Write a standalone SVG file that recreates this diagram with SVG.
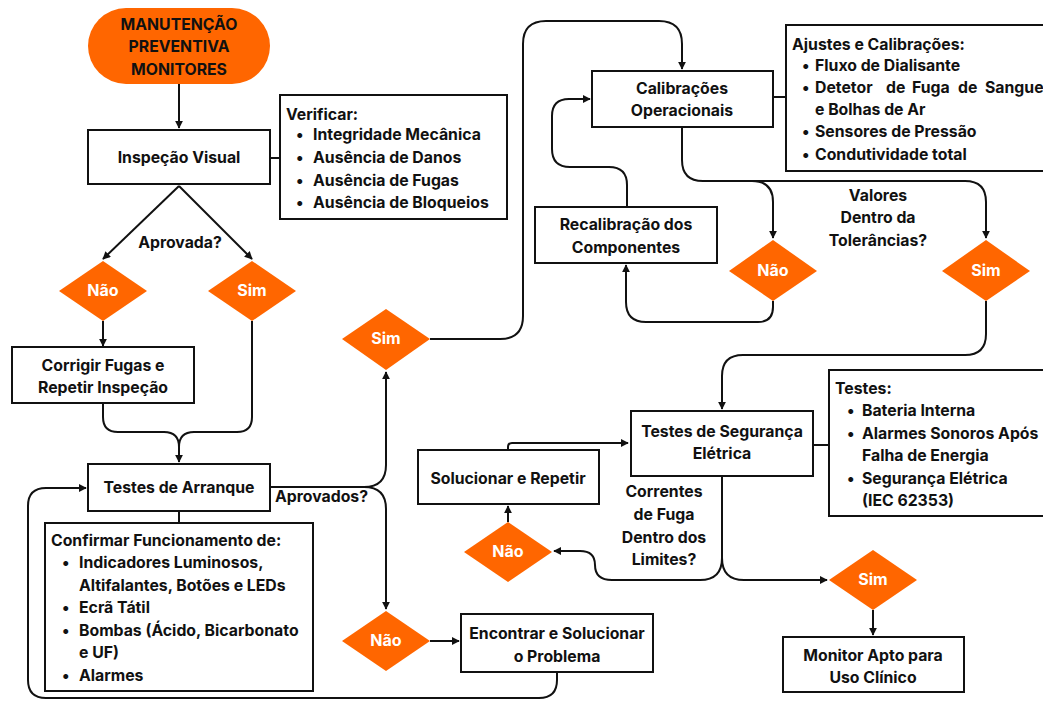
<svg xmlns="http://www.w3.org/2000/svg" width="1043" height="701" viewBox="0 0 1043 701">
<defs>
<marker id="ah" viewBox="0 0 10 10" refX="9" refY="5" markerWidth="8" markerHeight="8" markerUnits="userSpaceOnUse" orient="auto">
<path d="M0,0 L10,5 L0,10 z" fill="#111"/>
</marker>
<style>
.box{fill:#fff;stroke:#111;stroke-width:2}
.dia{fill:#FF6600}
.t{font-family:Inter,"Noto Sans","Liberation Sans",sans-serif;font-weight:700;font-size:15.8px;fill:#111}
.c{text-anchor:middle}
.w{fill:#fff;font-size:16px}
.cn{fill:none;stroke:#111;stroke-width:2}
.a{marker-end:url(#ah)}
</style>
</defs>
<rect width="1043" height="701" fill="#fff"/>
<g id="connectors">
<path class="cn a" d="M179 84 V128"/>
<path class="cn" d="M270 158 H280"/>
<path class="cn a" d="M179 186 L103 259"/>
<path class="cn a" d="M179 186 L252 259"/>
<path class="cn a" d="M103 321 V346"/>
<path class="cn a" d="M103 403 V417 Q103 432 118 432 H164 Q179 432 179 447 V462"/>
<path class="cn" d="M252 321 V417 Q252 432 237 432 H194 Q179 432 179 447"/>
<path class="cn" d="M179 511 V523"/>
<path class="cn a" d="M270 487 H364 Q386 487 386 465 V372"/>
<path class="cn a" d="M364 487 Q386 487 386 509 V609"/>
<path class="cn a" d="M430 339 H500 Q523 339 523 316 V44 Q523 21 546 21 H659 Q682 21 682 44 V69"/>
<path class="cn" d="M773 97 H786"/>
<path class="cn a" d="M682 127 V160 Q682 181 703 181 H752 Q773 181 773 202 V238"/>
<path class="cn a" d="M752 181 H965 Q986 181 986 202 V238"/>
<path class="cn a" d="M773 301 V307 Q773 322 758 322 H646 Q626 322 626 302 V265"/>
<path class="cn a" d="M627 207 V185 Q627 167 609 167 H570 Q552 167 552 149 V116 Q552 99 569 99 H590"/>
<path class="cn a" d="M986 301 V334 Q986 355 965 355 H743 Q722 355 722 376 V409"/>
<path class="cn" d="M813 445 H829"/>
<path class="cn a" d="M722 476 V558 Q722 580 744 580 H827"/>
<path class="cn a" d="M722 558 Q722 580 700 580 H612 Q595 580 595 565 Q595 551 580 551 H554"/>
<path class="cn a" d="M508 522 V506"/>
<path class="cn a" d="M508 450 V447 Q508 443 512 443 H628"/>
<path class="cn a" d="M430 641 H459"/>
<path class="cn a" d="M557 672 V680 Q557 698 539 698 H46 Q28 698 28 680 V506 Q28 488 46 488 H86"/>
<path class="cn a" d="M873 610 V635"/>
</g>
<g id="start">
<rect x="88" y="8" width="182" height="76" rx="38" fill="#FF6600"/>
<text class="t c" x="179" y="30">MANUTENÇÃO</text>
<text class="t c" x="179" y="52">PREVENTIVA</text>
<text class="t c" x="179" y="75">MONITORES</text>
</g>
<g id="inspecao">
<rect class="box" x="88" y="130" width="182" height="54"/>
<text class="t c" x="179" y="163">Inspeção Visual</text>
</g>
<g id="verificar">
<rect class="box" x="280" y="95" width="227" height="124"/>
<text class="t" x="286" y="120">Verificar:</text>
<text class="t" x="296" y="140">•</text><text class="t" x="313" y="140">Integridade Mecânica</text>
<text class="t" x="296" y="163">•</text><text class="t" x="313" y="163">Ausência de Danos</text>
<text class="t" x="296" y="186">•</text><text class="t" x="313" y="186">Ausência de Fugas</text>
<text class="t" x="296" y="208">•</text><text class="t" x="313" y="208">Ausência de Bloqueios</text>
</g>
<g id="aprovada-label"><text class="t c" x="180" y="248">Aprovada?</text></g>
<g id="nao1">
<polygon class="dia" points="103,261 147,291 103,321 59,291"/>
<text class="t c w" x="103" y="296">Não</text>
</g>
<g id="sim1">
<polygon class="dia" points="252,261 296,291 252,321 208,291"/>
<text class="t c w" x="252" y="296">Sim</text>
</g>
<g id="corrigir">
<rect class="box" x="12" y="347" width="182" height="56"/>
<text class="t c" x="103" y="371">Corrigir Fugas e</text>
<text class="t c" x="103" y="393">Repetir Inspeção</text>
</g>
<g id="arranque">
<rect class="box" x="88" y="464" width="182" height="47"/>
<text class="t c" x="179" y="493">Testes de Arranque</text>
</g>
<g id="confirmar">
<rect class="box" x="45" y="523" width="268" height="168"/>
<text class="t" x="51" y="546">Confirmar Funcionamento de:</text>
<text class="t" x="62" y="568">•</text><text class="t" x="79" y="568">Indicadores Luminosos,</text>
<text class="t" x="79" y="591">Altifalantes, Botões e LEDs</text>
<text class="t" x="62" y="613">•</text><text class="t" x="79" y="613">Ecrã Tátil</text>
<text class="t" x="62" y="636">•</text><text class="t" x="79" y="636">Bombas (Ácido, Bicarbonato</text>
<text class="t" x="79" y="658">e UF)</text>
<text class="t" x="62" y="681">•</text><text class="t" x="79" y="681">Alarmes</text>
</g>
<g id="aprovados-label"><text class="t" x="275" y="502">Aprovados?</text></g>
<g id="sim2">
<polygon class="dia" points="386,309 430,339 386,370 342,339"/>
<text class="t c w" x="386" y="344">Sim</text>
</g>
<g id="nao2">
<polygon class="dia" points="386,611 430,641 386,671 342,641"/>
<text class="t c w" x="386" y="646">Não</text>
</g>
<g id="encontrar">
<rect class="box" x="461" y="614" width="192" height="58"/>
<text class="t c" x="557" y="639">Encontrar e Solucionar</text>
<text class="t c" x="557" y="662">o Problema</text>
</g>
<g id="calibracoes">
<rect class="box" x="592" y="71" width="181" height="56"/>
<text class="t c" x="682" y="94">Calibrações</text>
<text class="t c" x="682" y="116">Operacionais</text>
</g>
<g id="ajustes">
<rect class="box" x="786" y="25" width="265" height="146"/>
<text class="t" x="792" y="50">Ajustes e Calibrações:</text>
<text class="t" x="802" y="71">•</text><text class="t" x="815" y="71">Fluxo de Dialisante</text>
<text class="t" x="802" y="93">•</text><text class="t" y="93"><tspan x="815">Detetor</tspan><tspan x="886">de</tspan><tspan x="912">Fuga</tspan><tspan x="958">de</tspan><tspan x="985">Sangue</tspan></text>
<text class="t" x="815" y="115">e Bolhas de Ar</text>
<text class="t" x="802" y="137">•</text><text class="t" x="815" y="137">Sensores de Pressão</text>
<text class="t" x="802" y="160">•</text><text class="t" x="815" y="160">Condutividade total</text>
</g>
<g id="recalibracao">
<rect class="box" x="535" y="207" width="182" height="56"/>
<text class="t c" x="626" y="230">Recalibração dos</text>
<text class="t c" x="626" y="253">Componentes</text>
</g>
<g id="valores-label">
<text class="t c" x="878" y="201">Valores</text>
<text class="t c" x="878" y="223">Dentro da</text>
<text class="t c" x="878" y="246">Tolerâncias?</text>
</g>
<g id="nao3">
<polygon class="dia" points="773,240 817,271 773,301 729,271"/>
<text class="t c w" x="773" y="276">Não</text>
</g>
<g id="sim3">
<polygon class="dia" points="986,240 1030,271 986,301 942,271"/>
<text class="t c w" x="986" y="276">Sim</text>
</g>
<g id="seguranca">
<rect class="box" x="631" y="411" width="182" height="65"/>
<text class="t c" x="722" y="437">Testes de Segurança</text>
<text class="t c" x="722" y="459">Elétrica</text>
</g>
<g id="testes">
<rect class="box" x="829" y="370" width="222" height="146"/>
<text class="t" x="835" y="394">Testes:</text>
<text class="t" x="847" y="416">•</text><text class="t" x="862" y="416">Bateria Interna</text>
<text class="t" x="847" y="439">•</text><text class="t" x="862" y="439">Alarmes Sonoros Após</text>
<text class="t" x="862" y="461">Falha de Energia</text>
<text class="t" x="847" y="484">•</text><text class="t" x="862" y="484">Segurança Elétrica</text>
<text class="t" x="862" y="506">(IEC 62353)</text>
</g>
<g id="solucionar">
<rect class="box" x="418" y="450" width="181" height="54"/>
<text class="t c" x="508" y="484">Solucionar e Repetir</text>
</g>
<g id="correntes-label">
<text class="t c" x="664" y="497">Correntes</text>
<text class="t c" x="664" y="520">de Fuga</text>
<text class="t c" x="664" y="543">Dentro dos</text>
<text class="t c" x="664" y="565">Limites?</text>
</g>
<g id="nao4">
<polygon class="dia" points="508,522 552,552 508,582 464,552"/>
<text class="t c w" x="508" y="557">Não</text>
</g>
<g id="sim4">
<polygon class="dia" points="873,550 917,580 873,610 829,580"/>
<text class="t c w" x="873" y="585">Sim</text>
</g>
<g id="monitor">
<rect class="box" x="783" y="637" width="181" height="55"/>
<text class="t c" x="873" y="661">Monitor Apto para</text>
<text class="t c" x="873" y="683">Uso Clínico</text>
</g>
</svg>
